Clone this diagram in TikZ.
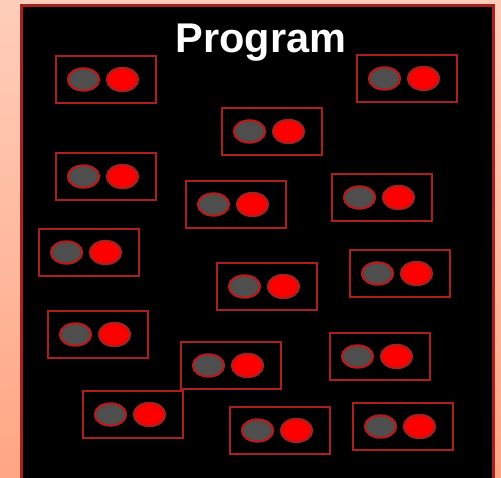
\documentclass[tikz,border=0pt]{standalone}
\usepackage{fontspec}
\setmainfont{Liberation Sans}
\usetikzlibrary{shapes.geometric}
\definecolor{peachtop}{RGB}{255,206,186}
\definecolor{peachbot}{RGB}{255,166,132}
\definecolor{framered}{RGB}{170,32,30}
\definecolor{dotgray}{RGB}{78,78,78}
\tikzset{
  unitbox/.style={draw=framered, line width=2pt, minimum width=100pt, minimum height=47pt, inner sep=0pt},
  lamp/.style={ellipse, draw=framered, line width=2.4pt, minimum width=31pt, minimum height=22pt, inner sep=0pt},
  offlamp/.style={lamp, fill=dotgray},
  onlamp/.style={lamp, fill=red, minimum height=23pt},
  title/.style={text=white, font=\bfseries\fontsize{41.5}{48}\selectfont, inner sep=0pt, anchor=base}
}
\begin{document}
\begin{tikzpicture}[x=1pt,y=-1pt]
  % peach backdrop
  \shade[top color=peachtop, bottom color=peachbot] (0,0) rectangle (501,477);
  \useasboundingbox (0,0) rectangle (501,477);
  % black program panel
  \fill[black] (21,5.5) rectangle (493,490);
  \draw[framered, line width=3pt] (21,490) -- (21,5.5) -- (493,5.5) -- (493,490);
  \node[title] (title) at (261,52.5) {Program};
  % units: top-left corner of each box
  \foreach \x/\y [count=\i] in {56/56, 357/55, 222/108, 56/153, 186/181, 332/174,
      39/229, 217/263, 350/250, 48/311, 181/342, 330/333, 83/391, 230/407, 353/403} {
    \node[unitbox] (b\i) at (\x+50,\y+23.5) {};
    \node[offlamp] (b\i g) at (\x+27.5,\y+23.5) {};
    \node[onlamp] (b\i r) at (\x+66.5,\y+23.5) {};
  }
\end{tikzpicture}
\end{document}
